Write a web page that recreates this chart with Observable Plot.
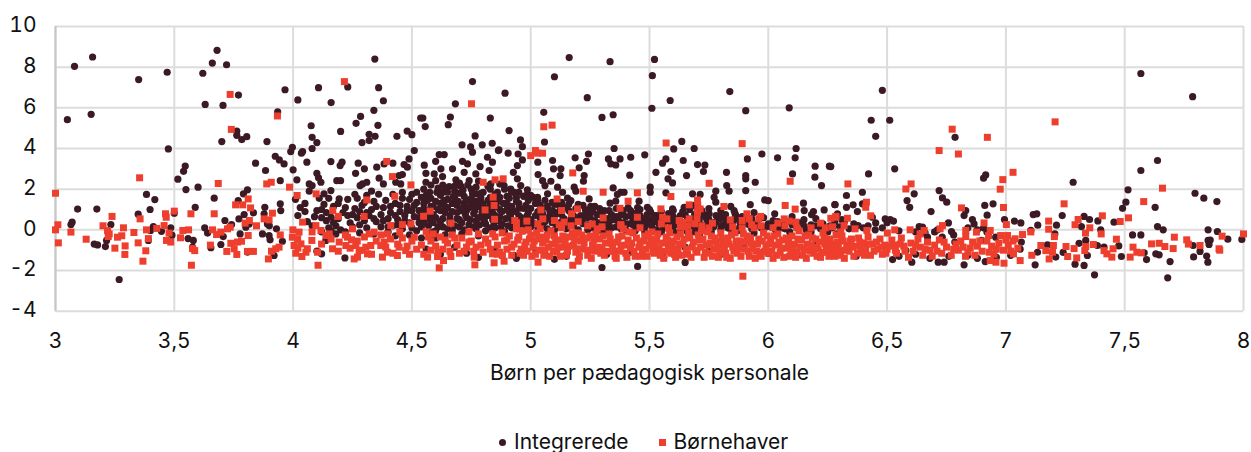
<!DOCTYPE html>
<html><head><meta charset="utf-8">
<script src="https://cdn.jsdelivr.net/npm/d3@7"></script>
<script src="https://cdn.jsdelivr.net/npm/@observablehq/plot@0.6"></script>
<style>
html,body{margin:0;padding:0;background:#fff;overflow:hidden}
body{width:1251px;height:452px;position:relative;font-family:Inter,sans-serif;color:#111}
#legend{position:absolute;left:499px;top:430px;font-size:21px;line-height:24px;white-space:nowrap;display:flex;align-items:center}
#legend i{display:inline-block;width:7px;height:7px;margin-right:8px}
#legend span{display:inline-flex;align-items:center}
</style></head><body>
<div id="chart"></div>
<div id="legend"><span><i style="background:#3c1a24;border-radius:50%"></i>Integrerede</span><span style="margin-left:30px"><i style="background:#ee3e2d"></i>Børnehaver</span></div>
<script>
const xTicks=[3,3.5,4,4.5,5,5.5,6,6.5,7,7.5,8];
const yTicks=[-4,-2,0,2,4,6,8,10];
const xTitle="Børn per pædagogisk personale";
const integreredeTop=[[3.08,8.04],[3.156,8.5],[3.05,5.42],[3.15,5.68],[3.35,7.39],[3.47,7.75],[3.68,8.83],[3.66,8.2],[3.72,8.12],[3.62,7.7],[3.63,6.17],[3.705,6.12],[3.77,6.63],[3.935,5.8],[3.763,4.86],[3.763,4.65],[3.784,4.44],[3.805,4.58],[3.7,4.34],[3.89,4.34],[3.475,3.98],[3.966,6.89],[4.02,6.39],[4.107,6.99],[4.16,6.26],[4.23,7.03],[4.36,6.99],[4.344,8.4],[4.38,6.35],[4.34,5.88],[4.284,5.58],[4.265,5.24],[4.357,5.14],[4.076,5.12],[4.2,4.84],[4.32,4.7],[4.345,4.6],[4.08,4.55],[4.1,4.29],[4.29,4.29],[4.32,4.39],[4.437,4.6],[4.48,4.86],[4.5,4.68],[3.997,4.06],[4.08,4],[4.04,3.85],[4.51,3.9],[4.537,5.5],
[5.162,8.47],[5.334,8.27],[5.521,8.38],[5.512,7.58],[5.1,7.53],[4.755,7.29],[4.892,6.72],[4.683,6.2],[5.238,6.5],[5.587,6.36],[5.51,5.98],[5.055,5.78],[5.347,5.66],[5.3,5.53],[5.838,6.8],[5.905,5.86],[6.088,6],[4.546,5.5],[4.556,5.08],[4.662,5.55],[4.653,5.17],[4.83,5.5],[4.909,4.88],[4.766,4.62],[4.957,4.42],[4.711,4.18],[4.747,4.08],[4.796,4.18],[4.838,4.26],[4.965,4.09],[5.058,4.32],[4.866,3.93],[5.636,4.35],[5.602,3.98],[5.688,4],[5.351,4],[6.117,4],
[6.48,6.86],[6.433,5.39],[6.511,5.39],[6.452,4.6],[6.786,4.55],[7.568,7.69],[7.786,6.55]];
const integreredeVenstre=[[3.093,1.02],[3.174,1.02],[3.07,0.38],[3.065,0.26],[3.163,-0.7],[3.177,-0.74],[3.21,-0.82],[3.215,-0.52],[3.233,0.26],[3.268,-2.44],[3.348,0.77],[3.383,1.74],[3.418,1.49],[3.398,1],[3.412,0.16],[3.391,-0.52],[3.4,-0.03],[3.446,-0.07],[3.485,0.1],[3.49,-0.26],[3.5,0.82],[3.515,2.49],[3.539,2.88],[3.546,3.14],[3.549,1.98],[3.6,2.1],[3.588,1.11],[3.558,-0.43],[3.58,-0.52],[3.577,-0.85],[3.628,0.1],[3.64,-0.16],[3.654,-0.88],[3.668,1.56],[3.696,-0.72],[3.713,0.46],[3.706,-0.33],[3.741,0.26],[3.772,0.54],[3.769,1.44],[3.791,1.77],[3.808,1.97],[3.777,-0.2],[3.801,0.13],[3.815,0.29],[3.794,0.75],[3.833,0.84],[3.808,-1.1],[3.842,3.28],[3.884,2.92],[3.925,3.62],[3.942,3.44],[3.962,3.24],[3.946,2.42],[3.881,1.11],[3.946,1.28],[3.948,0.95],[3.878,0.79],[3.892,0.29],[3.9,0.2],[3.871,-0.2],[3.899,-0.28],[3.903,-0.49],[3.93,0.05],[3.955,-0.56],[3.92,-1.26],[3.99,3.85],[4.035,3.77],[4,2.95],[4.016,2.46],[4.058,3.33],[4.159,3.36],[4.198,3.16],[4.206,3.33],[4.274,3.28],[4.3,3],[4.263,2.78],[4.352,3.08],[4.383,3.24],[4.42,3.28],[4.467,3.21],[4.481,3.08],[4.488,3.49],[4.1,2.78],[4.107,2.56],[4.117,2.34],[4.184,2.42],[4.2,2.42],[4.362,2.54],[4.38,2.26],[4.282,2.18],[4.292,2.26],[4.31,2.34],[4.446,2.67],[4.46,2.72],[4.432,2.34],[4.453,2.26],[4.068,2.26],[4.08,2.18],[4.068,1.9],[4.159,1.93],[4.13,1.77],[4.194,1.52],[4.12,-1.18],[4.218,-1.38],[4.138,-0.52],[4.1,-1.05]];
const integreredeOevre=[[4.636,3.7],[4.615,3.7],[4.6,3.37],[4.552,3.18],[4.713,3.37],[4.734,3.24],[4.755,3.82],[4.818,3.57],[4.839,3.33],[4.787,3.11],[4.825,2.92],[4.864,3.9],[4.905,3.77],[4.947,3.73],[4.965,3.44],[4.944,3.16],[4.927,2.83],[4.622,3],[4.671,3],[4.594,2.75],[4.629,2.62],[4.72,2.83],[4.769,2.75],[4.559,2.78],[4.685,2.46],[4.741,2.42],[4.559,2.34],[4.6,2.42],[4.657,2.13],[4.706,2.15],[4.832,2.26],[4.888,2.18],[4.944,2.51],[4.958,2.18],[4.916,2.01],[4.986,1.97],[4.629,1.85],[4.769,1.77],[4.979,1.69],[5.03,3.33],[5.092,3.41],[5.096,3],[5.127,3],[5.031,2.72],[5.124,2.67],[5.05,2.42],[5.085,2.39],[5.06,2.18],[5.113,2.1],[5.134,1.85],[5.071,1.77],[5.029,1.6],[5.187,3.54],[5.235,3.37],[5.243,3.73],[5.204,3.05],[5.225,2.67],[5.222,2.39],[5.183,2.1],[5.19,1.9],[5.327,3.49],[5.337,3.24],[5.376,3.49],[5.358,3.19],[5.421,3.57],[5.48,3.69],[5.417,2.69],[5.347,2.06],[5.379,1.85],[5.393,1.85],[5.365,1.74],[5.569,3.49],[5.555,3.28],[5.642,3.41],[5.702,3.21],[5.733,3.19],[5.727,2.87],[5.527,2.83],[5.59,2.87],[5.656,2.67],[5.578,2.51],[5.597,2.31],[5.503,2.1],[5.503,1.85],[5.569,1.82],[5.824,2.83],[5.905,2.67],[5.905,2.51],[5.945,2.34],[5.825,2.18],[5.835,1.9],[5.905,1.93],[5.912,3.49],[5.973,3.73],[6.039,3.54],[6.113,3.54],[6.197,3.13],[6.257,3.13],[6.102,2.75],[6.196,2.59],[6.224,2.18],
[5.681,1.77],[5.713,1.74],[5.779,1.9],[5.772,1.6],[5.779,1.36],[5.985,1.47],[6,1.44],[5.924,1.24],[6.148,1.31],[6.281,1.24],[6.151,0.95],[6.19,0.9],[6.182,0.75],[6.235,0.98],[6.027,0.79],[5.856,0.95],[5.842,1.15],[5.863,0.7],[5.688,1.2],[5.646,1.11],[5.597,1.03],[5.751,0.79],[5.793,0.54],[5.807,0.7],[5.491,1.11],[5.456,1.41],[5.505,0.87],[5.334,1.31],[5.358,1.41],[5.295,0.95],[5.246,1.52],[5.253,1.15],[5.232,0.82],[5.155,1.56],[5.169,1.44],[5.092,0.95]];
const integreredeTaet=[[4.01,1.5],[4.03,1.1],[4.05,0.9],[4.02,0.7],[4.06,0.4],[4.09,0.65],[4.12,0.6],[4.14,0.45],[4.16,0.62],[4.17,0.35],[4.18,0.2],[4.12,1],[4.13,1.25],[4.15,1.55],[4.17,1.15],[4.19,1.3],[4.21,0.85],[4.23,0.7],[4.25,0.75],[4.27,0.6],[4.28,0.9],[4.29,1.2],[4.27,1.55],[4.26,1.75],[4.3,0.45],[4.32,0.7],[4.33,1],[4.34,1.4],[4.31,1.7],[4.33,1.9],[4.35,0.4],[4.37,0.75],[4.38,1.1],[4.4,0.55],[4.41,0.85],[4.42,0.2],[4.44,0.5],[4.45,0.9],[4.43,1.3],[4.46,1.55],[4.47,0.7],[4.48,1.15],[4.49,0.35],[4.5,1.75],[4.5,0.95],[4.52,1.35],[4.53,0.6],[4.54,0.15],[4.12,-0.1],[4.15,0.1],[4.18,-0.2],[4.2,0],[4.22,-0.1],[4.25,0.15],[4.28,-0.15],[4.31,0.1],[4.34,-0.2],[4.37,0.15],[4.4,-0.1],[4.43,-0.3],[4.46,0.05],[4.49,-0.25],[4.52,-0.05],[4.54,-0.4],
[4.55,2],[4.56,1.7],[4.55,1.3],[4.56,0.95],[4.56,0.55],[4.57,0.2],[4.57,-0.15],[4.58,1.55],[4.59,1.15],[4.59,0.75],[4.59,0.35],[4.6,-0.05],[4.6,-0.4],[4.61,2.05],[4.62,1.7],[4.62,1.3],[4.62,0.95],[4.63,0.55],[4.63,0.15],[4.64,-0.25],[4.65,1.5],[4.65,1.1],[4.66,0.7],[4.66,0.35],[4.67,-0.05],[4.68,1.9],[4.68,1.55],[4.69,1.2],[4.69,0.85],[4.7,0.5],[4.7,0.15],[4.71,-0.2],[4.72,1.65],[4.72,1.3],[4.73,0.95],[4.73,0.6],[4.74,0.25],[4.75,2],[4.75,1.55],[4.76,1.15],[4.76,0.8],[4.77,0.45],[4.77,0.05],[4.78,-0.3],[4.79,1.8],[4.79,1.4],[4.8,1],[4.8,0.65],[4.81,0.3],[4.81,-0.05],[4.83,1.6],[4.83,1.2],[4.84,0.85],[4.84,0.5],[4.85,0.1],[4.86,1.85],[4.86,1.4],[4.87,1],[4.87,0.65],[4.88,0.3],[4.89,-0.1],[4.9,1.65],[4.9,1.3],[4.91,0.85],[4.92,0.5],[4.92,0.1],[4.94,1.4],[4.95,1.05],[4.95,0.7],[4.96,0.3],[4.97,-0.05],[4.98,1.2],[4.99,0.85],[5,0.5],[5,0.15],[5.02,1.3],[5.03,0.9],[5.04,0.55],[5.05,0.2],[5.07,1.15],[5.08,0.7],[5.09,0.35],[5.1,0],[5.12,1.2],[5.13,0.75],[5.13,0.4],[5.15,0.05],[5.16,0.95],[5.17,0.55],[5.18,0.2],[5.2,1.25],[5.21,0.7],[5.22,0.3],[5.24,0],[5.26,0.9],[5.27,0.45],[5.28,0.1],[5.3,0.7],[5.31,0.3],[5.32,-0.05],[5.33,0.95],[5.35,0.5],[5.36,0.15],[5.38,0.75],[5.39,0.35],[5.4,0],[5.42,0.95],[5.43,0.5],[5.44,0.15],[5.46,0.7],[5.47,0.25],[5.48,-0.1],[5.5,0.5],[5.51,0.15],[5.53,0.7],[5.54,0.3],[5.55,-0.1],[5.57,0.45],[5.58,0.05],[5.6,0.65],[5.61,0.25],[5.62,-0.2],[5.65,0.75],[5.65,0.3],[5.66,-0.1],[5.68,0.5],[5.7,0.15],[5.71,-0.25],[5.73,0.75],[5.74,0.3],[5.76,-0.1],[5.78,0.4],[5.8,0],[5.82,0.5],[5.83,0.1],[5.85,0.35],[5.87,-0.05],[5.89,0.3],[5.92,0.25],[5.94,-0.15],[5.97,0.1],[6,0.3],[6.03,0],[6.06,0.25],[6.09,-0.1],[6.13,0.35],[6.16,0],[6.2,0.2],[6.25,-0.1],[6.28,0.4],[6.31,0.5],[6.29,-0.2],
[4.56,-0.95],[4.62,-1.2],[4.68,-0.85],[4.73,-1.15],[4.78,-1.35],[4.85,-1],[4.93,-1.25],[4.94,-1.4],[5.02,-1.1],[5.1,-1.45],[5.15,-1.3],[5.2,-0.95],[5.32,-1.2],[5.3,-1.85],[5.42,-1.1],[5.45,-1.8],[5.56,-1.35],[5.65,-0.85],[5.75,-1.05],[5.65,-1.6],[5.8,-1.2],[5.9,-0.9],[6,-1.15],[6.12,-1.25],[6.2,-0.75],[6.3,-1.1],[6.37,-1.3]];
const integreredeFyld=[[4.05,1.3],[4.08,0.2],[4.1,0.95],[4.11,1.55],[4.14,0.85],[4.16,-0.05],[4.19,0.55],[4.22,1.1],[4.23,1.5],[4.24,0.35],[4.26,1.05],[4.28,0.25],[4.3,1.35],[4.31,0.85],[4.34,0.55],[4.35,1.15],[4.36,1.75],[4.38,0.45],[4.39,1.45],[4.4,0.15],[4.41,1.15],[4.42,1.75],[4.43,0.7],[4.44,0.25],[4.45,1.2],[4.46,1.85],[4.47,0.45],[4.48,0.95],[4.49,1.5],[4.5,0.1],[4.51,0.65],[4.51,1.2],[4.52,1.85],[4.53,0.35],[4.53,0.95],[4.54,1.6],[4.545,0.75],[4.55,1.05],[4.55,0.35],[4.565,1.45],[4.57,0.75],[4.575,1.85],[4.58,0.45],[4.58,1.15],[4.59,-0.1],[4.6,1.4],[4.6,0.6],[4.605,1.85],[4.61,0.15],[4.61,1],[4.62,0.4],[4.63,2.2],[4.635,1.45],[4.64,0.85],[4.64,1.15],[4.65,0.05],[4.65,1.85],[4.66,0.5],[4.67,1.3],[4.67,0.9],[4.675,1.65],[4.68,0.2],[4.68,2.15],[4.69,0.55],[4.695,1.4],[4.7,1.8],[4.705,0.95],[4.71,0.35],[4.71,1.05],[4.715,1.95],[4.72,0],[4.725,0.75],[4.73,1.45],[4.735,2.2],[4.74,1.1],[4.745,0.5],[4.75,1.3],[4.755,1.8],[4.76,0.15],[4.765,0.95],[4.77,1.4],[4.77,2.1],[4.78,0.6],[4.78,1.15],[4.785,0.25],[4.79,1.6],[4.795,0.85],[4.8,1.25],[4.8,1.85],[4.805,0.45],[4.815,1.05],[4.82,1.45],[4.82,0.7],[4.825,0.1],[4.83,2],[4.835,0.95],[4.84,1.35],[4.845,0.25],[4.85,1.75],[4.85,0.7],[4.855,1.15],[4.865,0.45],[4.87,1.6],[4.875,0.15],[4.88,0.9],[4.885,1.3],[4.89,2],[4.895,0.55],[4.9,1],[4.905,0.2],[4.91,1.55],[4.915,0.7],[4.92,1.15],[4.93,0.35],[4.93,1.85],[4.935,0.9],[4.94,1.6],[4.945,0.05],[4.95,1.3],[4.96,0.6],[4.97,1.05],[4.97,1.65],[4.98,0.2],[4.985,0.7],[4.99,1.45],[5,1.05],[5.01,0.35],[5.01,1.6],[5.02,0.7],[5.03,0.1],[5.04,1.2],[5.05,0.8],[5.06,0.4],[5.06,1.45],[5.07,0.05],[5.08,0.95],[5.1,0.6],[5.1,1.25],[5.11,0.15],[5.12,0.9],[5.14,0.55],[5.14,1.1],[5.15,0.25],[5.17,0.8],[5.19,0.4],[5.19,1.05],[5.2,0],[5.22,0.6],[5.23,1],[5.24,0.25],[5.25,0.65],[5.26,0.1],[5.27,1.15],[5.29,0.35],[5.3,-0.05],[5.31,0.95],[5.33,0.4],[5.34,0.1],[5.36,0.65],[5.37,0.2],[5.39,0.95],[5.41,0.3],[5.42,0.7],[5.44,-0.05],[5.45,0.45],[5.46,1],[5.48,0.4],[5.49,0.75],[5.52,0.4],[5.53,0],[5.55,0.55],[5.56,0.2],[5.58,0.8],[5.59,0.4],[5.6,-0.05],[5.62,0.45],[5.63,0.05],[5.64,0.9],[5.67,0.4],[5.69,-0.1],[5.71,0.55],[5.72,0.95],[5.75,0.5],[5.77,0.15],[5.79,0.6],[5.81,0.25],[5.84,0.05],[5.86,0.55],[5.88,0.15],[5.9,0.5],[5.93,0.05],[5.95,0.3],[5.98,-0.05],[6.01,0.15],[6.04,0.4],[6.07,0.05],[6.1,0.25],[6.15,0.2],[6.18,-0.1],[6.22,0.05],[6.27,0.1],[6.34,0.05],[6.4,0.1],[6.45,0],[6.48,0.1],[6.55,-0.05],[6.62,-0.1],[6.66,-0.15],[6.7,-0.1],[6.78,-0.25],[6.84,0.1],[6.88,0],[6.92,-0.1],[6.55,-1.3],[6.62,-1.2],[6.68,-1.4],[6.76,-1.3],[6.84,-1.25],[6.88,-1.4],[6.96,-1.35],[7.02,-1.25]];
const integreredeBaandMidt=[[4.58,2.2],[4.64,2.05],[4.7,2.3],[4.78,2.4],[4.82,2.15],[4.87,2.25],[4.92,1.85],[4.95,1.85],[5,1.7],[5.03,1.4],[5.05,1.05],[5.07,0.55],[5.09,1.35],[5.11,0.8],[5.13,1.35],[5.16,0.35],[5.16,1.25],[5.18,0.7],[5.2,0.5],[5.22,1.2],[5.24,0.6],[5.25,0.95],[5.27,0.25],[5.28,0.75],[5.29,1.05],[5.32,0.55],[5.33,0.2],[5.34,0.75],[5.36,1.05],[5.37,0.45],[5.38,0.05],[5.4,0.65],[5.41,1.1],[5.43,0.25],[5.44,0.8],[5.45,1.1],[5.47,0.55],[5.48,0.15],[5.5,1],[5.5,0.3],[5.52,0.7],[5.54,0.5],[5.55,0.9],[5.56,0.1],[5.58,0.6],[5.59,0.15],[5.6,0.95],[5.61,0.5],[5.63,0.7],[5.64,0.25],[5.66,0.55],[5.67,1],[5.68,0.2],[5.69,0.75],[5.71,0.35],[5.73,0.05],[5.74,0.55],[5.75,1.05],[5.77,0.35],[5.78,0.7],[5.8,0.2],[5.8,0.95],[5.82,0.75],[5.83,0.35],[5.85,0.1],[5.86,0.8],[5.88,0.4],[5.89,0.65],[5.91,0.3],[5.93,0.55],[5.94,0.85],[5.96,0.2],[5.98,0.6],[5.99,0.15],[6.02,0.45],[6.05,0.1],[6.08,0.4],[6.1,0.65],[6.12,0.1],[6.15,0.5],[6.18,0.25],[6.2,0.55],[6.23,0.3],[6.26,0.2],[6.3,0.15],[6.36,0.3],[6.42,0.2]];
const integreredeHoejre=[[6.422,2.75],[6.532,3],[6.263,3.11],[6.329,1.69],[6.396,1.85],[6.28,1.24],[6.357,1.23],[6.396,1.28],[6.329,1.11],[6.375,0.9],[6.291,0.79],[6.438,0.62],[6.452,0.34],[6.378,0.21],[6.32,0.4],[6.492,0.54],[6.513,0.51],[6.527,0.43],[6.5,0.35],[6.614,1.77],[6.584,1.44],[6.595,1.11],[6.685,0.9],[6.719,1.93],[6.733,1.57],[6.751,1.36],[6.635,0.16],[6.649,0.13],[6.712,0],[6.758,0.34],[6.771,-0.08],[6.67,-0.36],[6.732,-0.36],[6.785,-0.6],[6.523,-1.46],[6.604,-1.59],[6.715,-1.59],[6.74,-1.59],[6.579,-1.02],[6.824,-1.72],[6.831,0.95],[6.824,0.7],[6.859,0.51],[6.866,0.29],[6.906,0.1],[6.911,1.2],[6.946,1.28],[6.921,0.72],[6.906,2.54],[6.915,2.7],[6.897,-0.52],[6.957,-0.36],[7.065,-0.6],[7.06,-0.95],[6.913,-1.56],[6.994,0.51],[7.036,0.43],[7.063,0.34],[7.115,0.75],[7.13,0.79],[7.134,0.23],[7.105,-0.03],[7.123,-1.72],[7.133,-1.1],[7.175,-0.74],[7.21,-1.34],[7.206,-0.2],[7.237,0.7],[7.213,0.23],[7.241,-1.11],[7.283,2.34],[7.329,0.66],[7.352,0.51],[7.318,0.16],[7.387,0.44],[7.399,0],[7.308,-0.66],[7.336,-0.52],[7.343,-1.26],[7.291,-1.69],[7.329,-1.75],[7.373,-2.21],[7.385,-0.77],[7.413,-0.85],[7.475,-0.79],[7.486,-1.31],[7.455,0.38],[7.514,1.97],[7.505,1.36],[7.491,1.06],[7.568,2.92],[7.638,3.41],[7.533,-0.25],[7.568,-0.25],[7.628,1.11],[7.638,0.16],[7.662,0],[7.582,-1.13],[7.592,-1.46],[7.631,-1.18],[7.645,-1.23],[7.691,-1.56],[7.681,-2.36],[7.796,1.8],[7.833,1.56],[7.888,1.39],[7.851,0],[7.89,-0.08],[7.934,-0.46],[7.993,-0.47],[7.851,-0.52],[7.86,-0.5],[7.855,-0.72],[7.788,-0.77],[7.817,-1.06],[7.79,-1.33],[7.845,-1.29],[7.85,-1.59]];
const boernehaverSpredt=[[3.735,6.66],[3.934,5.6],[3.74,4.94],[4.216,7.29],[4.751,6.2],[5.055,5.07],[5.09,5.15],[5.57,4.27],[5.89,4.24],[5.02,3.9],[6.774,4.95],[6.922,4.55],[7.207,5.31],[6.719,3.9],
[3,1.8],[3.01,0.25],[3,0],[3.012,-0.64],[3.065,-0.11],[3.129,-0.46],[3.2,0.2],[3.219,-0.03],[3.226,-0.2],[3.222,-0.33],[3.238,0.66],[3.25,-0.9],[3.261,-0.36],[3.279,-0.29],[3.286,0.1],[3.293,-0.79],[3.292,-1.21],[3.33,-0.13],[3.348,-0.64],[3.368,-1.54],[3.354,2.56],[3.356,0.54],[3.38,-1.03],[3.383,0],[3.391,-0.43],[3.426,0.07],[3.457,0.21],[3.463,0.79],[3.466,0.62],[3.478,-0.16],[3.467,-0.52],[3.485,-0.6],[3.5,0.92],[3.526,-0.39],[3.536,-0.03],[3.56,0],[3.57,0.79],[3.572,-1.74],[3.586,-1.02],[3.577,-0.92],[3.652,-0.75],[3.668,0.79],[3.661,0],[3.678,-0.23],[3.696,-0.11],[3.685,2.28],[3.724,0.05],[3.735,0.13],[3.721,-1.06],[3.738,-0.66],[3.752,-0.93],[3.763,-1.21],[3.766,-0.6],[3.783,-0.56],[3.758,1.23],[3.788,1.23],[3.811,1.52],[3.821,1.08],[3.798,0.33],[3.816,0.46],[3.811,-0.28],[3.808,-1.06],[3.833,-1.06],[3.846,0.2],[3.889,2.26],[3.908,2.34],[3.878,0.54],[3.899,0.49],[3.913,0.82],[3.946,-0.25],[3.896,-1.43],[3.909,-1.05],[3.927,-0.93],[3.941,-0.85],[3.985,2.1],[4.017,1.69],[4.097,1.77],[4.167,0.95],[4.19,0.66],[4.04,0.38],[3.999,0],[4.025,-0.11],[3.997,-0.36],[4.019,-0.44],[4.004,-0.77],[4.033,-0.69],[4.011,-1.15],[4.037,-1.31],[4.079,-0.52],[4.06,-0.93],[4.054,-1.1],[4.103,-1.1],[4.105,-1.74],[4.096,0.21],[4.117,-0.03],[4.138,-0.28],[4.152,-0.2],[4.166,-0.93],[4.194,-0.6],[4.222,-0.77],[4.25,0.05],[4.229,-0.36],[4.246,-0.49],[4.257,-1.43],[4.271,-1.34],[4.278,-1.02],[4.264,-0.77],[4.299,0.66],[4.31,1.47],[4.306,-0.85],[4.327,-0.77],[4.313,-1.18],[4.29,-1],[4.32,-0.2],[4.341,-0.11],[4.376,-1.34],[4.397,-1.1],[4.369,-0.77],[4.383,-0.6],[4.411,0.21],[4.397,-0.2],[4.428,1.65],[4.418,2.62],[4.394,3.36],[4.46,0.26],[4.449,-0.11],[4.439,-1.26],[4.446,-0.85],[4.474,-1.02],[4.496,0.29],[4.51,-0.36],[4.496,2.21],
[4.566,-1.34],[4.615,-1.87],[4.608,-1.31],[4.633,-1.51],[4.664,-1.31],[4.765,-1.72],[4.762,-1.34],[4.846,-1.62],[4.888,-1.54],[4.839,-1.18],[4.881,-1.26],[5.031,-1.59],[5.177,-1.74],[5.2,-1.54],[4.664,0.33],[4.577,0.92],[4.549,0.67],[4.808,0.98],[4.846,1.2],[4.842,1.61],[4.848,0.52],[4.8,2.34],[4.85,2.46],[4.884,2.51],[5,3.65],[5.029,3.77],[5.05,3.77],[5.043,0.98],[5.051,0.54],[4.984,0.43],[4.933,0.46],[5.1,0.46],[5.13,0.95],[5.111,1.52],[5.177,2.8],[5.221,1.9],[5.305,1.85],[5.197,1.03],[5.172,0.79],[5.141,0.38],[5.259,0.29],[5.305,0.59],[5.376,1.06],[5.41,1.41],[5.449,1.82],[5.449,0.62],[5.379,0.26],[5.548,1.03],[5.555,0.62],[5.573,0.54],[5.59,1.64],[5.751,2.29],[5.667,1.23],[5.702,1.47],[5.703,1.2],[5.713,1.03],[5.702,0.87],[5.667,0.54],[5.639,0.38],[5.625,0.46],[5.813,1.15],[5.765,0.33],[5.84,0.49],[6.092,2.39],[6.071,1.2],[6.113,1.02],[5.91,0.79],[5.89,0.46],[5.92,0.54],[5.96,0.54],[5.968,0.66],[6.04,0.33],[6.067,0.54],[6.088,0.43],[6.116,0.38],[6.22,0.33],[6.263,0.57],[6.284,0.66],[5.893,-2.28]];
const boernehaverHoejre=[[6.335,2.26],[6.413,1.36],[6.41,1.11],[6.431,0.69],[6.333,0.57],[6.284,0.62],[6.319,0.21],[6.365,0.05],[6.415,-0.03],[6.305,-0.1],[6.579,2.01],[6.601,2.26],[6.8,3.73],[6.813,1.08],[6.733,0.21],[6.723,0.05],[6.597,0],[6.656,-0.03],[6.639,-0.2],[6.501,-0.16],[6.532,0],[6.831,-0.03],[6.831,-0.33],[6.876,-0.11],[6.908,0.34],[6.934,-0.03],[6.927,-0.28],[6.976,2],[6.987,2.47],[7.03,2.83],[6.99,1.1],[7.002,0.26],[6.978,-0.28],[7.007,-0.28],[7.039,-0.44],[7.07,-0.23],[7.105,-0.1],[7.109,-1.25],[7.06,-1.51],[7.032,-1.18],[6.992,-1.64],[6.958,-1.59],[6.934,-1.51],[7.18,0.43],[7.18,0.03],[7.204,-0.33],[7.245,1.28],[7.304,0.51],[7.291,0.25],[7.335,-0.16],[7.353,0.1],[7.406,0.69],[7.401,-0.2],[7.147,-0.77],[7.168,-1.02],[7.182,-1.43],[7.2,-0.77],[7.196,-1.1],[7.253,-0.82],[7.26,-1.31],[7.287,-0.92],[7.298,-1.38],[7.332,-1.02],[7.336,-0.82],[7.368,-0.72],[7.413,-1.02],[7.425,-1.18],[7.446,-1.34],[7.451,-0.93],[7.465,-0.46],[7.481,0.41],[7.516,0.59],[7.523,-1.34],[7.535,-0.85],[7.551,-1.1],[7.57,-1.13],[7.58,1.39],[7.659,2.05],[7.613,-0.69],[7.645,-0.66],[7.669,-0.82],[7.704,-0.92],[7.709,-0.36],[7.761,-0.49],[7.768,-0.7],[7.817,-0.77],[7.897,-0.93],[7.9,-1],[7.91,-0.31],[8,-0.2]];
const boernehaverBaand=[[4.56,-0.1],[4.58,-0.55],[4.58,-1],[4.6,-0.8],[4.62,-0.35],[4.63,-0.95],[4.65,-0.65],[4.66,-1.05],[4.67,-0.25],[4.69,-0.75],[4.7,-1.15],[4.71,-0.4],[4.73,-0.85],[4.74,-0.1],[4.75,-0.55],[4.76,-1.05],[4.78,-0.2],[4.79,-0.75],[4.8,-1.1],[4.81,-0.45],[4.83,-0.95],[4.85,-0.35],[4.86,-0.75],[4.87,-1.1],[4.88,-0.15],[4.89,-0.55],[4.9,-0.95],[4.91,-0.3],[4.92,-1.25],[4.93,-0.7],[4.94,0.05],[4.95,-0.35],[4.96,-0.95],[4.97,-1.25],[4.98,-0.6],[4.99,0],[5,-0.25],[5.01,-0.85],[5.02,-1.2],[5.03,-0.45],[5.04,0.05],[5.05,-0.65],[5.06,-1],[5.07,-0.25],[5.08,-1.3],[5.09,-0.7],[5.1,-0.3],[5.11,-1.1],[5.12,-0.5],[5.13,0.1],[5.14,-0.85],[5.15,-1.25],[5.16,-0.35],[5.17,0.2],[5.18,-0.75],[5.19,-1.1],[5.2,-0.15],[5.21,-0.55],[5.22,-0.95],[5.24,-1.25],[5.25,-0.3],[5.26,-0.75],[5.27,-1.05],[5.28,0.05],[5.29,-0.45],[5.3,-0.9],[5.31,-1.25],[5.33,-0.2],[5.34,-0.65],[5.35,-1.05],[5.36,-1.4],[5.37,-0.35],[5.38,-0.8],[5.39,0.05],[5.4,-1.15],[5.41,-0.5],[5.42,-0.9],[5.43,-0.15],[5.44,-1.3],[5.46,-0.65],[5.47,-1],[5.48,-0.3],[5.49,-1.3],[5.5,-0.75],[5.51,-0.1],[5.52,-1.15],[5.53,-0.5],[5.54,-0.95],[5.56,-1.4],[5.57,-0.35],[5.58,-0.8],[5.59,-1.15],[5.6,-0.55],[5.61,-1.35],[5.62,-0.95],[5.63,-0.2],[5.64,-0.7],[5.65,0.15],[5.66,-1.2],[5.67,-0.4],[5.68,-0.85],[5.69,0.3],[5.7,-1.1],[5.71,-0.5],[5.72,-0.05],[5.73,-1.35],[5.74,-0.75],[5.75,-1.15],[5.76,-0.3],[5.77,-0.95],[5.78,-0.55],[5.79,-1.35],[5.8,-0.15],[5.81,-0.75],[5.82,-1.15],[5.83,-0.4],[5.84,-1.4],[5.85,-0.85],[5.86,-0.15],[5.87,-1.15],[5.88,-0.55],[5.89,0.1],[5.9,-0.95],[5.91,-0.3],[5.92,-1.3],[5.93,-0.7],[5.94,0.1],[5.95,-1.05],[5.96,-0.45],[5.97,-1.3],[5.98,-0.15],[5.99,-0.8],[6,-1.15],[6.01,-0.45],[6.02,-1.4],[6.03,-0.75],[6.04,-0.2],[6.05,-1.1],[6.06,-0.5],[6.08,-0.9],[6.09,-1.3],[6.1,-0.3],[6.11,-0.7],[6.12,-1.1],[6.13,-0.05],[6.14,-0.5],[6.15,-0.95],[6.16,-1.4],[6.17,-0.25],[6.18,-0.75],[6.19,-1.15],[6.2,-0.45],[6.21,-0.95],[6.22,-1.35],[6.23,-0.15],[6.24,-0.7],[6.25,-1.1],[6.26,-0.45],[6.27,-0.9],[6.28,-1.3],[6.29,-0.6],[6.3,-1.05],[6.31,-0.3],[6.32,-1.4],[6.33,-0.75],[6.34,-1.05],[6.35,-0.45],[6.36,-1.3],[6.37,-0.8],[6.38,-0.4],[6.39,-1.1],[6.4,-0.65],[6.41,-0.95],[6.42,-0.35],[6.43,-1.25],[6.44,-0.7],[6.46,-0.95],[6.47,-0.45],[6.48,-1.2],[6.49,-0.75],[6.5,-0.95],[6.52,-0.5],[6.53,-0.75],[6.54,-1.15],[6.56,-0.4],[6.57,-0.8],[6.59,-1.35],[6.6,-0.65],[6.61,-1.05],[6.63,-0.45],[6.64,-0.85],[6.65,-1.25],[6.67,-0.6],[6.68,-1],[6.69,-1.3],[6.7,-0.75],[6.72,-0.5],[6.73,-1.15],[6.75,-0.85],[6.77,-1.25],[6.79,-0.7],[6.8,-1],[6.81,-0.55],[6.83,-1.3],[6.85,-0.9],[6.86,-0.6],[6.87,-1.25],[6.88,-0.8],[6.9,-1.05],[6.92,-0.55],[6.94,-0.8],[6.95,-1.2],[6.97,-0.65],[6.99,-1],[7.01,-0.75],[7.03,-0.55],[7.05,-0.9],[4.02,-0.9],[4.08,-0.1],[4.12,-0.7],[4.16,-0.45],[4.19,-1.05],[4.22,-0.25],[4.24,-0.9],[4.27,-0.55],[4.3,-0.35],[4.33,-1.2],[4.35,-0.55],[4.37,-0.25],[4.39,-0.85],[4.41,-0.45],[4.42,-1.15],[4.44,-0.7],[4.46,-0.4],[4.48,-0.8],[4.49,-1.2],[4.5,-0.55],[4.52,-0.95],[4.54,-0.75],[4.55,-1.2],[4.57,-0.35]];
const boernehaverFyld=[[4.59,-0.2],[4.61,-1.1],[4.64,-0.5],[4.68,-0.4],[4.72,-1.05],[4.74,-0.6],[4.77,-0.85],[4.82,-0.65],[4.84,-0.2],[4.86,-1.2],[4.9,-0.5],[4.92,-0.85],[4.945,-0.5],[4.955,-1.15],[4.965,-0.05],[4.975,-0.75],[4.985,-1.05],[4.995,-0.45],[5.005,-1.3],[5.015,-0.55],[5.025,-0.15],[5.035,-1],[5.045,-0.35],[5.055,-1.25],[5.065,-0.5],[5.075,-0.85],[5.085,-0.05],[5.095,-1.05],[5.105,-0.55],[5.115,-0.85],[5.125,-1.3],[5.135,-0.3],[5.145,-0.6],[5.155,-1.05],[5.165,-0.8],[5.175,-0.15],[5.185,-0.45],[5.195,-0.95],[5.205,-1.3],[5.215,-0.25],[5.225,-0.65],[5.235,-0.4],[5.245,-1],[5.255,-1.4],[5.265,-0.5],[5.275,-0.2],[5.285,-0.85],[5.295,-1.15],[5.305,-0.3],[5.315,-0.65],[5.325,-1.05],[5.335,-0.45],[5.345,-0.9],[5.355,-1.3],[5.365,-0.6],[5.375,-1.05],[5.385,-0.3],[5.395,-0.75],[5.405,-1.35],[5.415,-0.1],[5.425,-0.65],[5.435,-1.05],[5.445,-0.4],[5.455,-0.85],[5.465,-1.3],[5.475,-0.55],[5.485,-0.95],[5.495,-0.2],[5.505,-0.45],[5.515,-1.05],[5.525,-0.75],[5.535,-0.2],[5.545,-1.25],[5.555,-0.65],[5.565,-1.05],[5.575,-0.5],[5.585,-0.15],[5.595,-0.85],[5.605,-1.2],[5.615,-0.35],[5.625,-0.7],[5.635,-1.25],[5.645,-0.45],[5.655,-0.95],[5.665,-0.15],[5.675,-1.35],[5.685,-0.6],[5.695,-1],[5.705,-0.25],[5.715,-0.85],[5.725,-0.45],[5.735,-1.1],[5.745,-0.1],[5.755,-0.65],[5.765,-1.3],[5.775,-0.4],[5.785,-0.8],[5.795,-1.1],[5.805,-0.45],[5.815,-0.95],[5.825,-1.35],[5.835,-0.7],[5.845,-0.25],[5.855,-1.05],[5.865,-0.55],[5.875,-0.85],[5.885,-1.3],[5.895,-0.2],[5.905,-0.6],[5.915,-1.05],[5.925,-0.4],[5.935,-0.95],[5.945,-1.4],[5.955,-0.7],[5.965,-1.1],[5.975,-0.55],[5.985,-1.05],[5.995,-0.3],[6.005,-0.7],[6.015,-1.05],[6.025,-0.3],[6.035,-1.25],[6.045,-0.6],[6.055,-0.9],[6.065,-1.35],[6.075,-0.4],[6.085,-0.6],[6.095,-1.05],[6.105,-0.85],[6.115,-1.35],[6.125,-0.45],[6.135,-0.85],[6.145,-1.25],[6.155,-0.3],[6.165,-0.7],[6.175,-1.05],[6.185,-0.4],[6.195,-0.85],[6.205,-1.3],[6.215,-0.6],[6.225,-1.1],[6.235,-0.4],[6.245,-0.9],[6.255,-1.3],[6.265,-0.7],[6.275,-1.1],[6.285,-0.25],[6.295,-0.85],[6.305,-1.25],[6.315,-0.55],[6.325,-1],[6.345,-0.55],[6.355,-0.85],[6.375,-1.15],[6.385,-0.6],[6.395,-0.85],[6.405,-1.25],[6.425,-0.7],[6.445,-1.05],[6.455,-0.6],[6.475,-0.85],[6.495,-1.15],[6.515,-0.8],[6.535,-1],[6.555,-0.7],[6.575,-1.05],[6.62,-0.75],[6.66,-0.95],[6.71,-1.05],[6.74,-0.6],[6.78,-0.95],[6.82,-0.85],[6.84,-1.1],[6.89,-0.55],[6.93,-1.1],[6.96,-0.95],[7,-0.5],[7.02,-1.05]];
const boernehaverTakker=[[4.94,0.35],[5.03,0.3],[5.12,0.25],[5.2,0.4],[5.24,0.2],[5.3,0.15],[5.38,0.2],[5.46,0.1],[5.55,0.3],[5.58,0.1],[5.63,0.15],[5.66,0.2],[5.7,0.55],[5.72,0.2],[5.75,0.1],[5.85,0.15],[5.93,0.25],[5.97,0.2],[6.02,0.1],[6.07,0.2],[6.12,0.1],[6.18,0.1],[6.24,0.1],[6.27,0.15]];
const integrerede=[...integreredeTop,...integreredeVenstre,...integreredeOevre,...integreredeTaet,...integreredeFyld,...integreredeBaandMidt,...integreredeHoejre];
const boernehaver=[...boernehaverSpredt,...boernehaverHoejre,...boernehaverBaand,...boernehaverFyld,...boernehaverTakker];
const fmt=d=>String(d).replace(".",",");
const plot=Plot.plot({
  width:1251,height:400,marginLeft:55,marginRight:8,marginTop:26,marginBottom:89.3,
  style:{fontFamily:"Inter, sans-serif",fontSize:"21px",color:"#111",background:"#fff"},
  x:{domain:[3,8],ticks:xTicks},
  y:{domain:[-4,10],ticks:yTicks},
  marks:[
    Plot.gridX(xTicks,{stroke:"#dcdcdc",strokeWidth:2,strokeOpacity:1}),
    Plot.gridY(yTicks,{stroke:"#dcdcdc",strokeWidth:2,strokeOpacity:1}),
    Plot.ruleX([3],{stroke:"#c6c6c6",strokeWidth:2}),
    Plot.axisY(yTicks,{tickSize:0,tickPadding:19,tickFormat:fmt,label:null,fontSize:21,dy:-1}),
    Plot.axisX(xTicks,{tickSize:0,tickPadding:22,tickFormat:fmt,label:xTitle,labelAnchor:"center",labelArrow:"none",labelOffset:69,fontSize:21}),
    Plot.dot(integrerede,{x:d=>d[0],y:d=>d[1],r:3.6,fill:"#3c1a24",stroke:"none"}),
    Plot.dot(boernehaver,{x:d=>d[0],y:d=>d[1],symbol:"square",r:3.95,fill:"#ee3e2d",stroke:"none"})
  ]
});
document.getElementById("chart").append(plot);
</script></body></html>
